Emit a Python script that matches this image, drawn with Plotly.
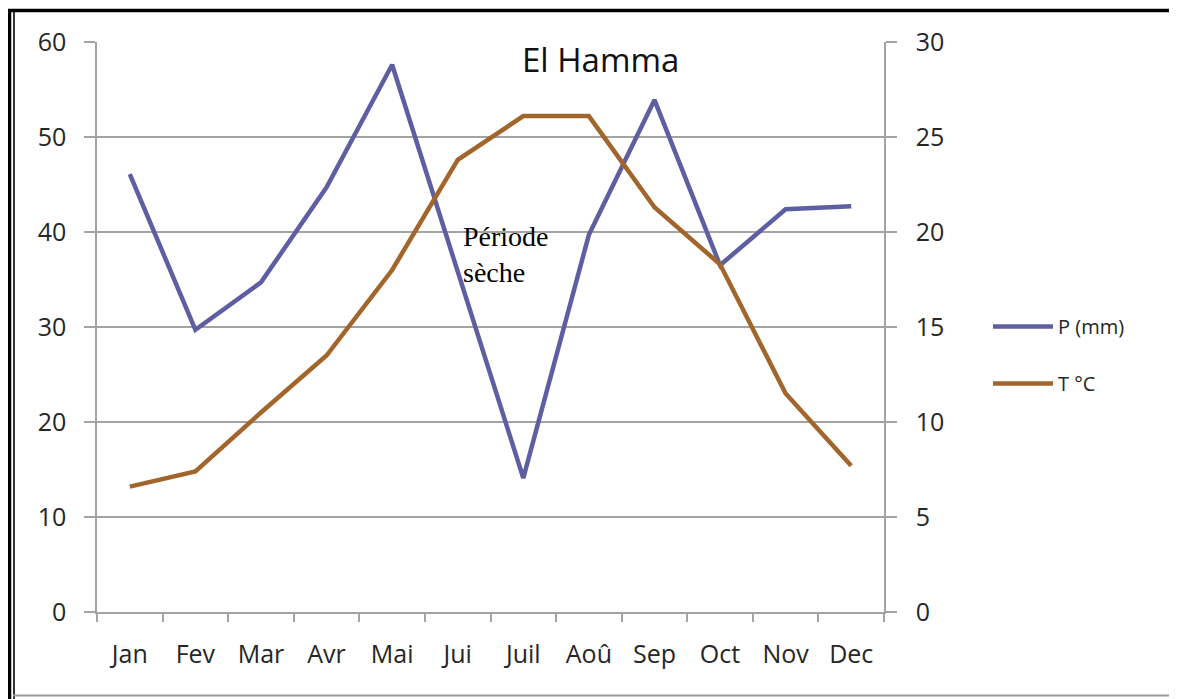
import plotly.graph_objects as go

months = ["Jan", "Fev", "Mar", "Avr", "Mai", "Jui", "Juil", "Aoû", "Sep", "Oct", "Nov", "Dec"]
precip_mm = [46.1, 29.7, 34.7, 44.7, 57.6, 35.7, 14.1, 39.7, 53.9, 36.5, 42.4, 42.7]
temp_c = [6.6, 7.4, 10.5, 13.5, 18.0, 23.8, 26.1, 26.1, 21.3, 18.3, 11.5, 7.7]
left_ticks = [0, 10, 20, 30, 40, 50, 60]
right_ticks = [0, 5, 10, 15, 20, 25, 30]

P_COLOR = "#5E5FA2"
T_COLOR = "#A2652B"
GRID = "#A3A3A3"
TXT = "#262626"
FONT = "Open Sans"

# the page body has an 8px margin: the figure starts at page (8, 8)
OFF = 8
W, H = 1177 - OFF, 699 - OFF
# plot area in page pixels
L, R, T, B = 97, 884, 42, 612
def px(x):
    return (x - L) / (R - L)
def py(y):
    return (B - y) / (B - T)

fig = go.Figure()
fig.add_trace(go.Scatter(x=months, y=precip_mm, mode="lines", name="P (mm)",
                         line=dict(color=P_COLOR, width=4.5), yaxis="y", legendgroup="p"))
fig.add_trace(go.Scatter(x=months, y=temp_c, mode="lines", name="T °C",
                         line=dict(color=T_COLOR, width=4.5), yaxis="y2", legendgroup="t"))

fig.update_layout(
    width=W, height=H,
    margin=dict(l=L - OFF, r=W - (R - OFF), t=T - OFF, b=H - (B - OFF), autoexpand=False),
    paper_bgcolor="white", plot_bgcolor="white",
    font=dict(family=FONT, color=TXT, size=25),
    showlegend=True,
    legend=dict(x=px(988), y=py(307), xanchor="left", yanchor="top",
                traceorder="grouped", tracegroupgap=28, itemwidth=60,
                font=dict(family=FONT, size=20, color=TXT),
                bgcolor="rgba(0,0,0,0)"),
    xaxis=dict(type="category", categoryorder="array", categoryarray=months,
               range=[-0.5, 11.5], tickson="boundaries", ticks="outside", ticklen=8,
               tickcolor=GRID, tickwidth=1.5, showgrid=False,
               showline=True, linecolor=GRID, linewidth=1.5,
               tickfont=dict(family=FONT, size=25, color=TXT), ticklabelstandoff=19),
    yaxis=dict(range=[0, 60], tickvals=left_ticks, ticks="outside", ticklen=11,
               tickcolor=GRID, tickwidth=1.5, showgrid=True, gridcolor=GRID, gridwidth=1.5,
               showline=True, linecolor=GRID, linewidth=1.5, zeroline=False,
               tickfont=dict(family=FONT, size=25, color=TXT), ticklabelstandoff=13),
    yaxis2=dict(range=[0, 30], tickvals=right_ticks, overlaying="y", side="right",
                ticks="outside", ticklen=11, tickcolor=GRID, tickwidth=1.5, showgrid=False,
                showline=True, linecolor=GRID, linewidth=1.5, zeroline=False,
                tickfont=dict(family=FONT, size=25, color=TXT), ticklabelstandoff=14),
    annotations=[
        dict(text="El Hamma", x=px(600), y=py(60), xref="paper", yref="paper",
             showarrow=False, font=dict(family=FONT, size=33, color="#111111"),
             xanchor="center", yanchor="middle"),
        dict(text="Période<br>sèche", x=px(461), y=py(254), xref="paper", yref="paper",
             showarrow=False, align="left", xanchor="left", yanchor="middle",
             font=dict(family="Liberation Serif", size=28, color="#000000")),
    ],
    shapes=[
        # outer frame of the figure
        dict(type="line", xref="paper", yref="paper", x0=px(8), x1=px(1185),
             y0=py(10.5), y1=py(10.5), line=dict(color="black", width=3.5)),
        dict(type="line", xref="paper", yref="paper", x0=px(9.5), x1=px(9.5),
             y0=py(9), y1=py(705), line=dict(color="black", width=3.5)),
        dict(type="line", xref="paper", yref="paper", x0=px(14), x1=px(14),
             y0=py(12), y1=py(705), line=dict(color="#333333", width=2)),
        dict(type="line", xref="paper", yref="paper", x0=px(13), x1=px(1185),
             y0=py(695.5), y1=py(695.5), line=dict(color="#9A9A9A", width=2)),
    ],
)

fig.write_html("out.html")
